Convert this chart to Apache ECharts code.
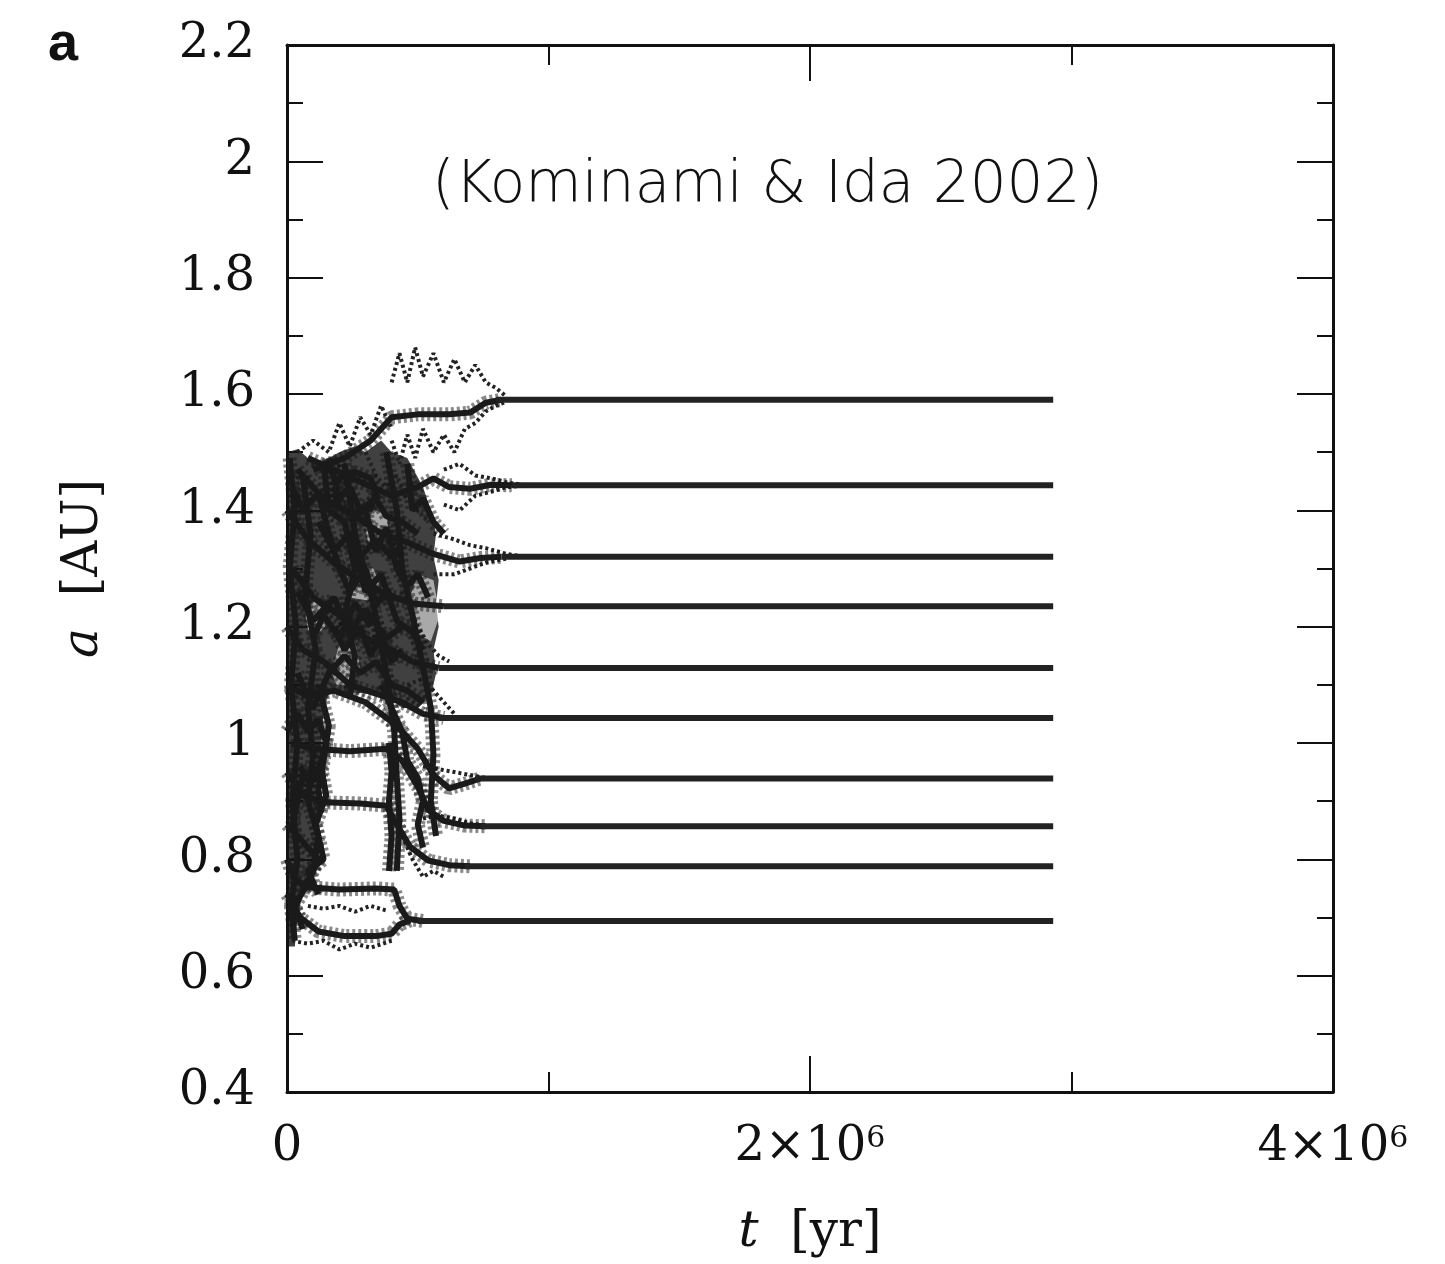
<!DOCTYPE html>
<html>
<head>
<meta charset="utf-8">
<title>Kominami & Ida 2002</title>
<script src="https://cdn.jsdelivr.net/npm/echarts@6/dist/echarts.min.js"></script>
<style>
  html, body { margin: 0; padding: 0; background: #fff; }
  #chart { width: 1445px; height: 1264px; }
</style>
</head>
<body>
<div id="chart"></div>
<script>
// time in units of 1e6 yr, semimajor axis in AU
const runEnd = 2.93;
const settledA = [1.590, 1.443, 1.320, 1.235, 1.129, 1.043, 0.939, 0.857, 0.788, 0.694];
const settledFrom = [0.80, 0.86, 0.82, 0.60, 0.58, 0.58, 0.72, 0.74, 0.68, 0.50];

// outline of the densest part of the early, chaotic phase
const cloudOutline = [[0.0,1.50],[0.04,1.505],[0.08,1.49],[0.12,1.48],[0.16,1.49],[0.20,1.50],[0.26,1.51],[0.30,1.50],
  [0.36,1.52],[0.40,1.50],[0.46,1.49],[0.52,1.44],[0.55,1.40],[0.57,1.36],[0.56,1.32],[0.58,1.28],[0.57,1.24],
  [0.58,1.20],[0.56,1.16],[0.57,1.12],[0.55,1.08],[0.50,1.06],[0.44,1.06],[0.40,1.075],[0.30,1.085],[0.16,1.09],
  [0.14,1.05],[0.13,0.99],[0.13,0.92],[0.12,0.88],[0.12,0.80],[0.10,0.76],[0.06,0.74],[0.04,0.70],[0.03,0.65],[0.0,0.65]];
// lighter pockets inside the cloud
const pocket1 = [[0.07,1.22],[0.10,1.245],[0.14,1.23],[0.145,1.20],[0.11,1.185],[0.08,1.195]];
const pocket2 = [[0.22,1.28],[0.26,1.305],[0.33,1.30],[0.355,1.27],[0.31,1.245],[0.24,1.25]];
const pocket3 = [[0.47,1.25],[0.50,1.29],[0.56,1.28],[0.585,1.22],[0.55,1.175],[0.49,1.19]];
const pocket4 = [[0.17,1.12],[0.20,1.17],[0.26,1.175],[0.28,1.13],[0.24,1.10],[0.19,1.10]];
const pocket5 = [[0.30,1.37],[0.33,1.40],[0.38,1.395],[0.39,1.36],[0.35,1.34],[0.31,1.345]];
const pockets = [pocket1, pocket2, pocket3, pocket4, pocket5];

// wandering tracks before the orbits settle
const trackA = [[0.0,0.80],[0.03,0.765],[0.08,0.752],[0.2,0.748],[0.34,0.750],[0.41,0.748],[0.43,0.72],[0.46,0.698],[0.52,0.694]];
const trackB = [[0.0,0.74],[0.05,0.70],[0.12,0.676],[0.22,0.668],[0.34,0.668],[0.40,0.672],[0.43,0.688],[0.47,0.695]];
const trackC = [[0.0,0.95],[0.06,0.91],[0.14,0.898],[0.28,0.896],[0.38,0.892],[0.42,0.86],[0.47,0.822],[0.54,0.798],[0.62,0.79],[0.70,0.788]];
const trackD = [[0.02,1.00],[0.10,0.99],[0.24,0.986],[0.38,0.99],[0.44,0.97],[0.50,0.925],[0.54,0.885],[0.60,0.866],[0.68,0.858],[0.76,0.857]];
const trackE = [[0.0,1.10],[0.08,1.08],[0.18,1.09],[0.30,1.07],[0.42,1.03],[0.50,0.99],[0.56,0.945],[0.62,0.922],[0.68,0.93],[0.74,0.939]];
const trackF = [[0.0,1.20],[0.06,1.16],[0.14,1.14],[0.24,1.10],[0.34,1.085],[0.44,1.07],[0.52,1.05],[0.60,1.043]];
const trackG = [[0.02,1.30],[0.10,1.25],[0.20,1.22],[0.30,1.18],[0.40,1.16],[0.48,1.14],[0.58,1.129]];
const trackH = [[0.0,1.40],[0.08,1.35],[0.18,1.31],[0.28,1.28],[0.38,1.255],[0.48,1.24],[0.60,1.235]];
const trackI = [[0.04,1.47],[0.14,1.42],[0.26,1.39],[0.36,1.36],[0.46,1.345],[0.56,1.325],[0.66,1.312],[0.74,1.318],[0.82,1.32]];
const trackJ = [[0.08,1.49],[0.18,1.47],[0.30,1.445],[0.40,1.425],[0.50,1.44],[0.56,1.455],[0.62,1.44],[0.70,1.437],[0.78,1.444],[0.86,1.443]];
const trackK = [[0.10,1.47],[0.22,1.49],[0.32,1.52],[0.40,1.56],[0.50,1.565],[0.62,1.565],[0.70,1.568],[0.76,1.585],[0.82,1.59]];
const ring = [[0.18,1.43],[0.20,1.455],[0.26,1.466],[0.32,1.455],[0.34,1.43],[0.32,1.405],[0.26,1.393],[0.20,1.405],[0.18,1.43]];
const trackM = [[0.01,1.49],[0.03,1.40],[0.01,1.30],[0.035,1.20],[0.015,1.10],[0.04,1.00],[0.02,0.90],[0.04,0.80],[0.015,0.72],[0.03,0.66]];
const trackN = [[0.06,1.46],[0.09,1.36],[0.07,1.26],[0.11,1.16],[0.08,1.06],[0.10,0.98],[0.08,0.90],[0.12,0.84],[0.10,0.78]];
const trackO = [[0.22,1.48],[0.26,1.36],[0.33,1.24],[0.38,1.12],[0.41,1.02],[0.42,0.94],[0.43,0.87],[0.42,0.78]];
const trackP = [[0.38,1.50],[0.42,1.40],[0.44,1.30],[0.48,1.22],[0.52,1.13],[0.55,1.06],[0.56,0.98],[0.55,0.90],[0.57,0.84]];
const trackQ = [[0.12,1.38],[0.18,1.33],[0.24,1.36],[0.30,1.26],[0.36,1.29],[0.42,1.21],[0.48,1.19],[0.52,1.16]];
const trackR = [[0.04,1.12],[0.10,1.06],[0.16,1.12],[0.22,1.15],[0.28,1.12],[0.34,1.14],[0.40,1.10],[0.46,1.09],[0.52,1.07]];
const trackS = [[0.04,1.26],[0.10,1.21],[0.18,1.25],[0.24,1.19],[0.30,1.23],[0.38,1.18],[0.44,1.20]];
const trackT = [[0.12,1.10],[0.16,1.03],[0.14,0.97],[0.12,0.92],[0.13,0.88]];
const trackU = [[0.30,1.40],[0.34,1.33],[0.38,1.37],[0.42,1.30],[0.46,1.27],[0.50,1.29],[0.54,1.25]];
const trackV = [[0.14,1.48],[0.16,1.40],[0.22,1.38],[0.26,1.30],[0.22,1.22],[0.26,1.15],[0.24,1.08]];
const trackW = [[0.16,1.49],[0.20,1.42],[0.24,1.44],[0.28,1.40],[0.34,1.42],[0.38,1.39],[0.44,1.38],[0.50,1.36]];
const trackX = [[0.02,1.44],[0.06,1.40],[0.12,1.43],[0.16,1.36],[0.20,1.30],[0.24,1.26],[0.30,1.30],[0.34,1.24],[0.40,1.26]];
const trackY = [[0.0,1.02],[0.04,1.05],[0.08,1.02],[0.12,1.04],[0.15,1.00],[0.12,0.95],[0.06,0.94],[0.02,0.86]];
const trackZ = [[0.05,0.96],[0.09,0.93],[0.13,0.96],[0.15,0.91],[0.11,0.86],[0.14,0.80],[0.08,0.78],[0.12,0.74]];
const trackAA = [[0.18,1.20],[0.22,1.16],[0.28,1.20],[0.32,1.15],[0.36,1.19],[0.40,1.14],[0.44,1.16]];
const trackAB = [[0.10,1.18],[0.14,1.22],[0.20,1.18],[0.26,1.24],[0.32,1.20]];
const trackAC = [[0.46,1.48],[0.48,1.40],[0.52,1.42],[0.56,1.38],[0.60,1.36]];
const trackAD = [[0.0,0.86],[0.04,0.84],[0.08,0.82],[0.12,0.80],[0.08,0.76],[0.03,0.72],[0.06,0.68]];
const trackAE = [[0.24,1.34],[0.28,1.32],[0.34,1.35],[0.40,1.32],[0.44,1.34]];
const trackAF = [[0.36,1.10],[0.40,1.06],[0.44,1.02],[0.46,0.97],[0.50,0.94],[0.52,0.90],[0.50,0.86],[0.52,0.82]];
const trackAG = [[0.39,1.00],[0.40,0.95],[0.39,0.90],[0.40,0.84],[0.39,0.78]];

// scattered excursions (eccentric orbits), drawn dotted
const spray1 = [[0.04,1.50],[0.10,1.52],[0.16,1.50],[0.20,1.55],[0.24,1.51],[0.28,1.56],[0.32,1.53],[0.36,1.58],[0.40,1.54]];
const spray2 = [[0.40,1.62],[0.43,1.67],[0.46,1.62],[0.49,1.68],[0.52,1.63],[0.56,1.67],[0.60,1.62],[0.64,1.66],[0.68,1.62],[0.72,1.65],[0.76,1.62],[0.80,1.61],[0.84,1.595]];
const spray3 = [[0.40,1.52],[0.43,1.48],[0.46,1.53],[0.49,1.49],[0.52,1.54],[0.56,1.50],[0.60,1.53],[0.64,1.50],[0.68,1.54],[0.72,1.55],[0.76,1.57],[0.80,1.58],[0.84,1.587]];
const spray4 = [[0.60,1.47],[0.66,1.48],[0.72,1.46],[0.78,1.455],[0.84,1.448],[0.90,1.444]];
const spray5 = [[0.60,1.41],[0.66,1.40],[0.72,1.425],[0.78,1.432],[0.84,1.44],[0.90,1.442]];
const spray6 = [[0.56,1.36],[0.64,1.35],[0.70,1.34],[0.76,1.335],[0.84,1.325],[0.90,1.321]];
const spray7 = [[0.56,1.29],[0.64,1.29],[0.70,1.30],[0.76,1.31],[0.84,1.317]];
const spray8 = [[0.02,0.66],[0.08,0.655],[0.14,0.66],[0.2,0.645],[0.26,0.655],[0.32,0.648],[0.40,0.66]];
const spray9 = [[0.44,1.26],[0.50,1.20],[0.54,1.17],[0.58,1.15],[0.62,1.14]];
const spray10 = [[0.46,1.10],[0.52,1.11],[0.56,1.09],[0.60,1.07],[0.64,1.05]];
const spray11 = [[0.52,0.96],[0.58,0.955],[0.64,0.95],[0.70,0.945],[0.76,0.94]];
const spray12 = [[0.52,0.87],[0.58,0.875],[0.64,0.87],[0.70,0.862],[0.76,0.858]];
const spray13 = [[0.30,1.50],[0.34,1.46],[0.38,1.44],[0.42,1.46],[0.46,1.42],[0.50,1.40],[0.54,1.38]];
const spray14 = [[0.08,0.72],[0.14,0.715],[0.20,0.72],[0.26,0.71],[0.32,0.72],[0.38,0.712]];
const spray15 = [[0.44,0.84],[0.48,0.80],[0.52,0.77],[0.56,0.78],[0.60,0.77]];

const wanderTracks = [trackA, trackB, trackC, trackD, trackE, trackF, trackG, trackH, trackI, trackJ, trackK,
  ring, trackM, trackN, trackO, trackP, trackQ, trackR, trackS, trackT, trackU, trackV,
  trackW, trackX, trackY, trackZ, trackAA, trackAB, trackAC, trackAD, trackAE, trackAF, trackAG];
const sprayTracks = [spray1, spray2, spray3, spray4, spray5, spray6, spray7, spray8, spray9, spray10,
  spray11, spray12, spray13, spray14, spray15];

const ink = '#1a1a1a';
const serif = 'DejaVu Serif';
const chart = echarts.init(document.getElementById('chart'));

const polygonSeries = (outline, fill, z) => ({
    type: 'custom', silent: true, z: z, data: [0],
    renderItem: (params, api) => ({
        type: 'polygon',
        shape: { points: outline.map(p => api.coord(p)) },
        style: { fill: fill }
    })
});

const series = [polygonSeries(cloudOutline, 'rgba(22,22,22,0.82)', 1)];
pockets.forEach(p => series.push(polygonSeries(p, 'rgba(255,255,255,0.55)', 1)));
sprayTracks.forEach(tr => {
    series.push({
        type: 'line', data: tr, showSymbol: false, silent: true, z: 2,
        lineStyle: { color: '#222', width: 4, type: [3, 3] }
    });
});
wanderTracks.forEach(tr => {
    series.push({
        type: 'line', data: tr, showSymbol: false, silent: true, z: 3,
        lineStyle: { color: 'rgba(20,20,20,0.5)', width: 14, type: [3, 3] }
    });
    series.push({
        type: 'line', data: tr, showSymbol: false, silent: true, z: 4,
        lineStyle: { color: ink, width: 6 }
    });
});
settledA.forEach((a, i) => {
    series.push({
        type: 'line', data: [[settledFrom[i], a], [runEnd, a]], showSymbol: false, silent: true, z: 5,
        lineStyle: { color: '#222', width: 6 }
    });
});

const tickLine = { color: '#111', width: 2 };
const baseX = {
    type: 'value', min: 0, max: 4, interval: 2,
    axisLine: { show: true, onZero: false, lineStyle: { color: '#111', width: 3 } },
    axisTick: { inside: true, length: 36, lineStyle: tickLine },
    minorTick: { show: true, splitNumber: 2, length: 20, lineStyle: tickLine },
    splitLine: { show: false }
};
const baseY = {
    type: 'value', min: 0.4, max: 2.2, interval: 0.2,
    axisLine: { show: true, onZero: false, lineStyle: { color: '#111', width: 3 } },
    axisTick: { inside: true, length: 36, lineStyle: tickLine },
    minorTick: { show: true, splitNumber: 2, length: 16, lineStyle: tickLine },
    splitLine: { show: false }
};

const option = {
    animation: false,
    backgroundColor: '#fff',
    grid: { left: 287, right: 112, top: 45, bottom: 172, outerBoundsMode: 'none' },
    graphic: [
        {
            type: 'text', left: 48, top: 18,
            style: { text: 'a', font: 'bold 54px "Liberation Sans"', fill: '#111' }
        },
        {
            type: 'text', left: 432, top: 158,
            style: { text: '(Kominami & Ida 2002)', font: '200 58px "DejaVu Sans"', fill: '#111' }
        }
    ],
    xAxis: [
        Object.assign({}, baseX, {
            position: 'bottom',
            name: '{i|t}  [yr]', nameLocation: 'middle', nameGap: 116,
            nameTextStyle: {
                fontFamily: serif, fontSize: 50, color: '#111',
                rich: { i: { fontFamily: serif, fontSize: 50, fontStyle: 'italic', color: '#111' } }
            },
            axisLabel: {
                margin: 32, color: '#111', fontFamily: serif, fontSize: 48,
                formatter: v => v === 0 ? '0' : v + '×10{s|6}',
                rich: { s: { fontFamily: serif, fontSize: 30, verticalAlign: 'top', color: '#111' } }
            }
        }),
        Object.assign({}, baseX, { position: 'top', axisLabel: { show: false } })
    ],
    yAxis: [
        Object.assign({}, baseY, {
            position: 'left',
            name: '{i|a}  [AU]', nameLocation: 'middle', nameGap: 178, nameRotate: 90,
            nameTextStyle: {
                fontFamily: serif, fontSize: 50, color: '#111',
                rich: { i: { fontFamily: serif, fontSize: 50, fontStyle: 'italic', color: '#111' } }
            },
            axisLabel: { margin: 32, color: '#111', fontFamily: serif, fontSize: 48 }
        }),
        Object.assign({}, baseY, { position: 'right', axisLabel: { show: false } })
    ],
    series: series
};
chart.setOption(option);
</script>
</body>
</html>
